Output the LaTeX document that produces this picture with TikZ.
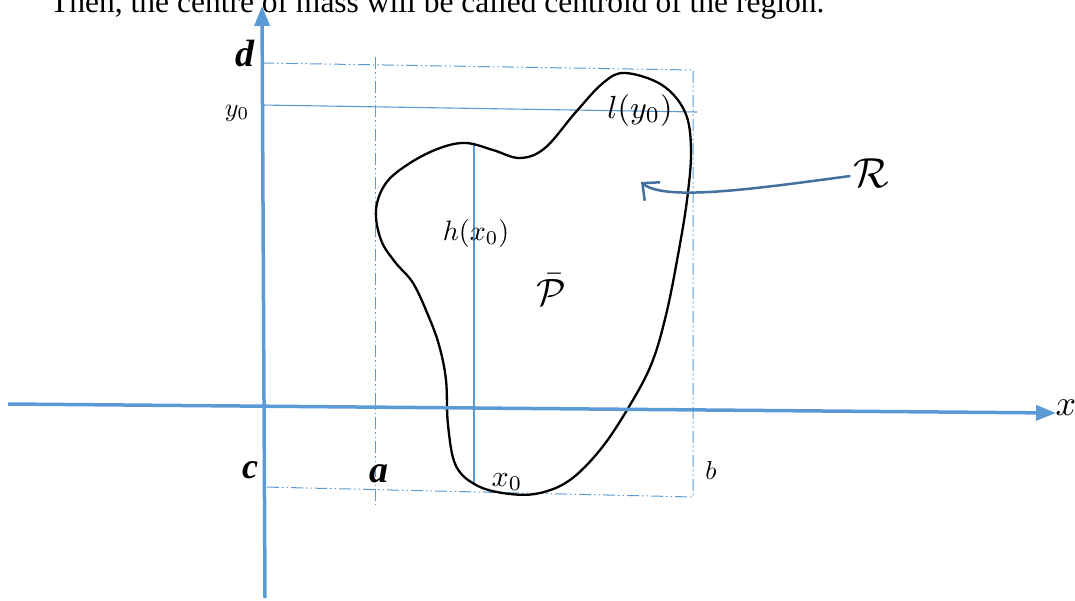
\documentclass[tikz,border=0pt]{standalone}
\usepackage{fontspec}
\setmainfont{Liberation Serif}
\usetikzlibrary{arrows.meta}
\definecolor{axisblue}{HTML}{5B9BD5}
\definecolor{arrblue}{HTML}{41719C}
\begin{document}
\begin{tikzpicture}[x=1pt,y=-1pt,
  axis/.style={axisblue, line width=3.5pt, -{Triangle[length=20pt,width=15pt]}},
  ddot/.style={axisblue, line width=1pt, dash pattern=on 12pt off 3pt on 1.5pt off 3pt on 1.5pt off 3pt},
  thinline/.style={axisblue, line width=1.1pt},
  blob/.style={black, line width=2.3pt},
  rarrow/.style={arrblue, line width=2.5pt, -{Straight Barb[length=13pt,width=24pt]}},
  lab/.style={inner sep=0pt, text=black}]
\useasboundingbox (0,0) rectangle (1075,600);
% cut-off heading text
\node[lab, anchor=base west, font=\fontsize{31.5}{36}\selectfont] (head) at (50,12) {Then, the centre of mass will be called centroid of the region.};
% guide lines
\coordinate (tl) at (262,63);
\coordinate (tr) at (693,70);
\coordinate (bl) at (264,487);
\coordinate (br) at (693,497);
\coordinate (at) at (375,57);
\coordinate (ab) at (375,505);
\draw[ddot] (tl) -- (tr) -- (br) -- (bl);
\draw[ddot] (at) -- (ab);
\coordinate (y0l) at (262,105);
\coordinate (y0r) at (697,112);
\draw[thinline] (y0l) -- (y0r);
\coordinate (htop) at (474,143);
\coordinate (hbot) at (474,484);
\draw[thinline] (htop) -- (hbot);
% region
\draw[blob] plot[smooth cycle, tension=0.6] coordinates {
 (625,73) (662,85) (685,112) (691,150) (687,200) (678,255) (666,315) (651,365)
 (627,410) (600,450) (570,480) (540,493) (510,494) (478,486) (456,466) (448,425)
 (446,380) (439,345) (428,315) (413,283) (395,262) (381,240) (376,210) (386,183)
 (410,163) (440,148) (466,143) (493,150) (520,158) (545,148) (575,113) (603,83)};
% axes
\coordinate (xs) at (8,404);
\coordinate (xe) at (1056,413);
\coordinate (ys) at (265,598);
\coordinate (ye) at (262,6);
\draw[axis] (xs) -- (xe);
\draw[axis] (ys) -- (ye);
% labels
\node[lab, font=\fontsize{38}{42}\selectfont] (d) at (245,53) {\textbf{\textit{d}}};
\node[lab, scale=2.6] (y0) at (237,113) {$y_0$};
\node[lab, font=\fontsize{36}{40}\selectfont] (c) at (250,470) {\textbf{\textit{c}}};
\node[lab, font=\fontsize{38}{42}\selectfont] (a) at (379,474) {\textbf{\textit{a}}};
\node[lab, scale=3.0] (x0) at (507,482) {$x_0$};
\node[lab, scale=2.6] (b) at (711,470) {$b$};
\node[lab, scale=3.6] (x) at (1066,408) {$x$};
\node[lab, scale=2.8] (h) at (476,233) {$h(x_0)$};
\node[lab, scale=3.8] (P) at (551,290) {$\bar{\mathcal{P}}$};
\node[lab, scale=3.2] (l) at (640,110) {$l(y_0)$};
\node[lab, scale=4.2] (R) at (871,173) {$\mathcal{R}$};
\draw[rarrow] (R.west) ++(-2,3) .. controls (760,188) and (665,202) .. (641,182);
\end{tikzpicture}
\end{document}
